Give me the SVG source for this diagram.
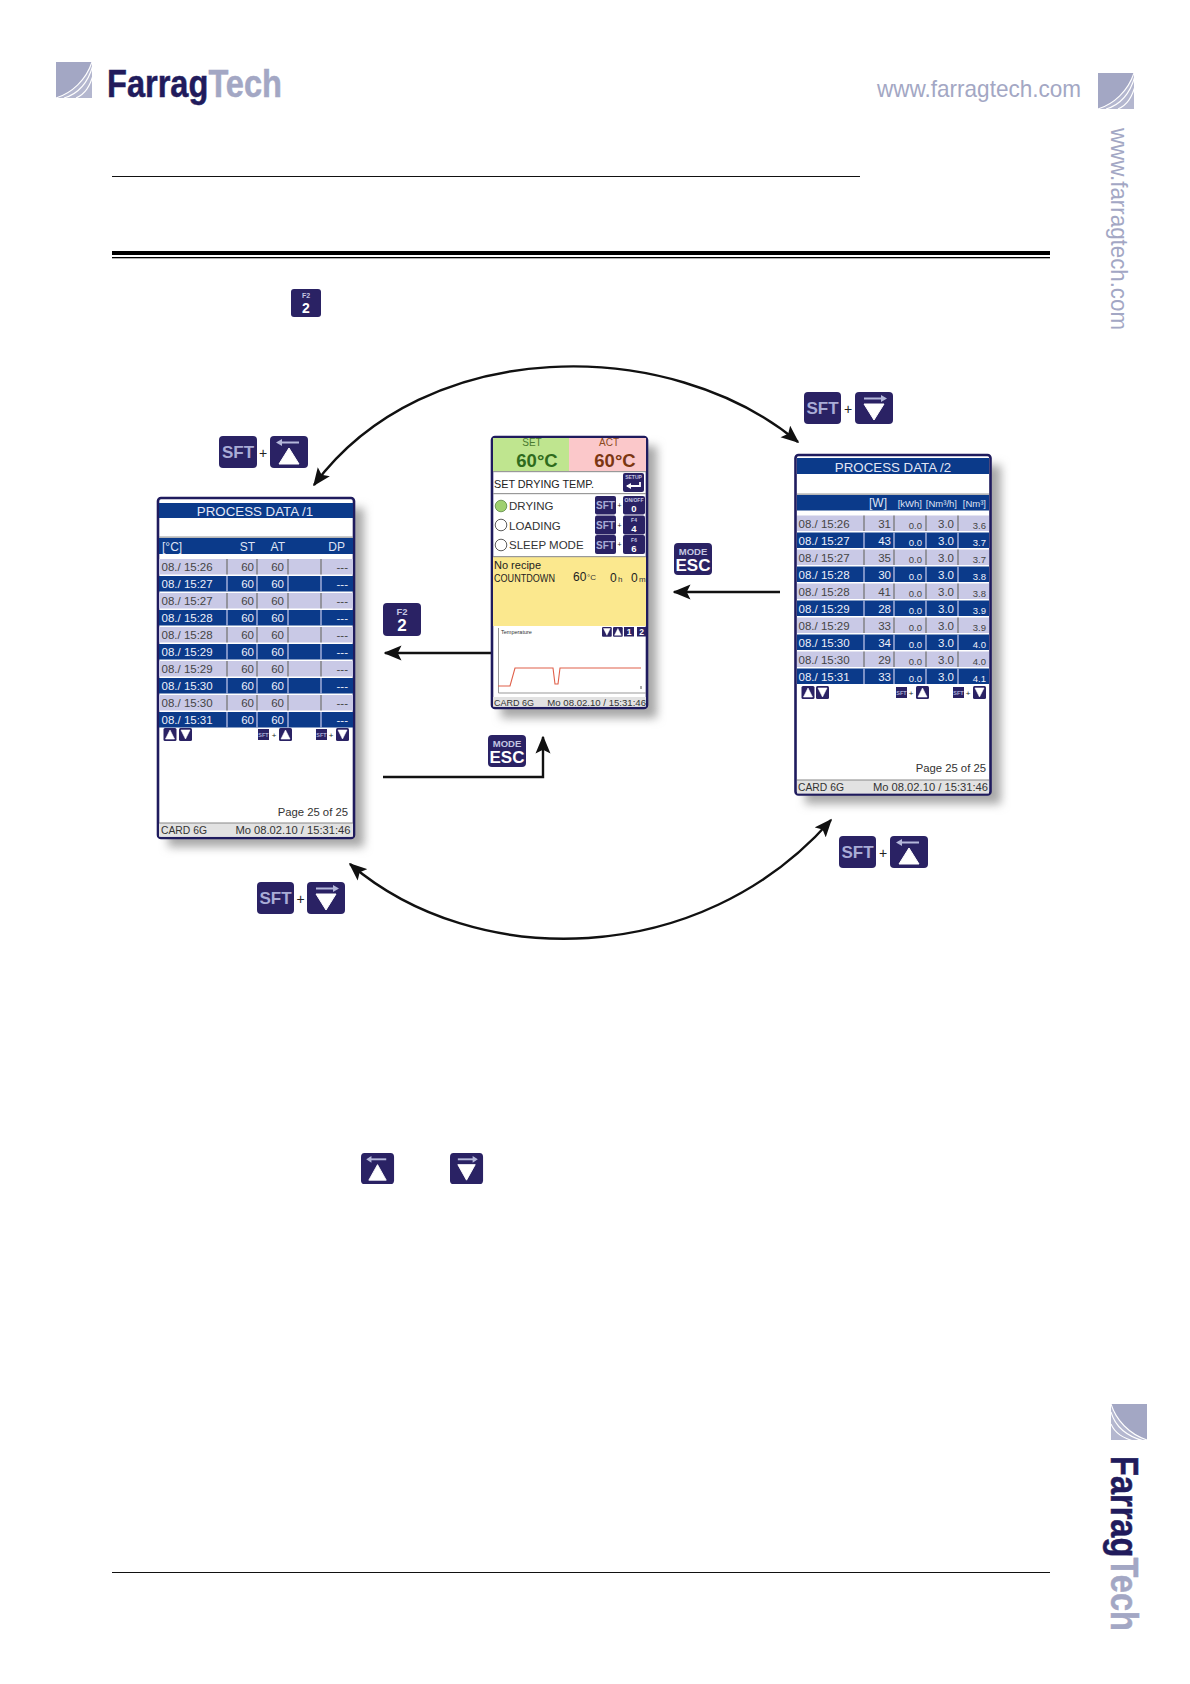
<svg xmlns="http://www.w3.org/2000/svg" width="1190" height="1684" viewBox="0 0 1190 1684">
<style>
text{font-family:"Liberation Sans",Arial,sans-serif}
.k{fill:#2a2264}
.sf{fill:#a9acd6;font-weight:bold;text-anchor:middle}
.kt{fill:#c4c6e2;font-weight:bold;text-anchor:middle}
.kw{fill:#fff;font-weight:bold;text-anchor:middle}
.plus{fill:#222;text-anchor:middle}
.frame{fill:#fff;stroke:#1f1b5e;stroke-width:2.6}
.bar{fill:#0b3a8a}
.tt{fill:#e4e8f6;text-anchor:middle;font-size:13.3px}
.hd{fill:#dfe3f4;font-size:12px}
.lt{fill:#c9c9e6}
.dk{fill:#0b3a8a}
.tl{fill:#444;font-size:11.5px}
.td{fill:#eef0fa;font-size:11.5px}
.sl{font-size:9.5px}
.r{text-anchor:end}
.dl{stroke:#777;stroke-width:1.3}
.dd{stroke:#b9bfe6;stroke-width:1.3}
.st{fill:#e2e2e2}
.stt{fill:#333;font-size:11.2px}
.stm{fill:#333;font-size:9.6px}
.pg{fill:#333;font-size:11.3px;text-anchor:end}
.con{fill:none;stroke:#111;stroke-width:2.4}
.logo{font-weight:bold;fill:#211b5c;stroke:#211b5c;stroke-width:.5}
.logo tspan{fill:#a3a7c4;stroke:#a3a7c4}
.web{fill:#a3a7c4}
.gl{fill:#a8a8a8}
</style>
<defs>
<marker id="ah" viewBox="0 0 12 10" refX="11" refY="5" markerWidth="7.5" markerHeight="6.5" markerUnits="strokeWidth" orient="auto-start-reverse"><path d="M0 0L12 5L0 10L2.500 5Z" fill="#111"/></marker>
<filter id="blur" x="-20%" y="-20%" width="140%" height="140%"><feGaussianBlur stdDeviation="5"/></filter>
<g id="keyUp"><rect width="38" height="32" rx="4" class="k"/><path d="M10 6.500H29" stroke="#b4b7da" stroke-width="2"/><path d="M6 6.500L12 3V10Z" fill="#b4b7da"/><path d="M19 12L29 28H9Z" fill="#fff" stroke="#fff" stroke-linejoin="round"/></g>
<g id="keyDown"><rect width="38" height="32" rx="4" class="k"/><path d="M9 6.500H28" stroke="#b4b7da" stroke-width="2"/><path d="M32 6.500L26 3V10Z" fill="#b4b7da"/><path d="M9 12H29L19 28Z" fill="#fff" stroke="#fff" stroke-linejoin="round"/></g>
<g id="icoUp"><rect width="13" height="13" rx="1.500" class="k"/><path d="M6.500 2L11 11H2Z" fill="#fff" stroke="#fff" stroke-width=".6" stroke-linejoin="round"/></g>
<g id="icoDown"><rect width="13" height="13" rx="1.500" class="k"/><path d="M2 2H11L6.500 11Z" fill="#fff" stroke="#fff" stroke-width=".6" stroke-linejoin="round"/></g>
<g id="logoSq"><rect width="36" height="36" fill="#a3a7c4"/><path d="M0 36C16 31 30 18 36 0V36Z" fill="#b4b7cf"/><path d="M0 36C16 31 30 18 36 0M8 36C22 32 32 21 37 3M20 36C29 32 34 25 38 10" fill="none" stroke="#fff" stroke-width="1.100"/></g>
</defs>
<rect width="1190" height="1684" fill="#fff"/>

<g id="header">
<use href="#logoSq" x="56" y="62"/>
<text class="logo" x="107" y="97" font-size="38" textLength="175" lengthAdjust="spacingAndGlyphs">Farrag<tspan>Tech</tspan></text>
<text class="web" x="877" y="97" font-size="24" textLength="204" lengthAdjust="spacingAndGlyphs">www.farragtech.com</text>
<use href="#logoSq" x="1098" y="73"/>
<text class="web" transform="translate(1111 128) rotate(90)" font-size="24" textLength="202" lengthAdjust="spacingAndGlyphs">www.farragtech.com</text>
<rect x="112" y="176" width="748" height="1" fill="#111"/>
<rect x="112" y="251" width="938" height="4" fill="#000"/>
<rect x="112" y="257" width="938" height="1.300" fill="#000"/>
<rect x="112" y="1572" width="938" height="1" fill="#111"/>
<g transform="translate(1111 1404) rotate(90) translate(0 -36)"><use href="#logoSq"/></g>
<text class="logo" transform="translate(1111 1456) rotate(90)" font-size="38" textLength="175" lengthAdjust="spacingAndGlyphs">Farrag<tspan>Tech</tspan></text>
</g>

<g id="key-inline-f2"><rect x="291" y="289" width="30" height="28" rx="3" class="k"/><text class="kt" x="306" y="298" font-size="7">F2</text><text class="kw" x="306" y="313" font-size="14">2</text></g>

<g id="connectors">
<path class="con" d="M314 485C425 335 670 335 798 442" marker-start="url(#ah)" marker-end="url(#ah)"/>
<path class="con" d="M350 864C475 971 700 969 831 820" marker-start="url(#ah)" marker-end="url(#ah)"/>
<path class="con" d="M641 640V653H385" marker-end="url(#ah)"/>
<path class="con" d="M780 592H674" marker-end="url(#ah)"/>
<path class="con" d="M383 777H543V737" marker-end="url(#ah)"/>
</g>

<g id="screen-main">
<rect x="501" y="446" width="156" height="272" class="gl" filter="url(#blur)"/>
<rect x="492" y="437" width="155" height="271" rx="3" class="frame"/>
<rect x="493" y="438" width="76" height="33" fill="#bfe58f"/>
<rect x="569" y="438" width="77" height="33" fill="#fbc8ca"/>
<text x="532" y="446" font-size="10" text-anchor="middle" fill="#4a7a30">SET</text>
<text x="609" y="446" font-size="10" text-anchor="middle" fill="#8a4a20">ACT</text>
<text x="537" y="467" font-size="18.500" font-weight="bold" text-anchor="middle" fill="#2f6b1d">60°C</text>
<text x="615" y="467" font-size="18.500" font-weight="bold" text-anchor="middle" fill="#7b3612">60°C</text>
<rect x="493" y="471" width="153" height="1.200" fill="#999"/>
<text x="494" y="488" font-size="11.500" fill="#222" textLength="100" lengthAdjust="spacingAndGlyphs">SET DRYING TEMP.</text>
<rect x="623" y="473" width="21" height="19" rx="2" class="k"/>
<text class="kt" x="633.500" y="479" font-size="5">SETUP</text>
<path d="M627 486H640V482" fill="none" stroke="#fff" stroke-width="1.800"/>
<path d="M626 486L631 483V489Z" fill="#fff"/>
<rect x="493" y="493" width="153" height="1.200" fill="#999"/>
<circle cx="501" cy="506" r="5.800" fill="#9fd06f" stroke="#4a7a30" stroke-width=".7"/>
<circle cx="501" cy="525" r="5.800" fill="#fff" stroke="#333" stroke-width=".8"/>
<circle cx="501" cy="545" r="5.800" fill="#fff" stroke="#333" stroke-width=".8"/>
<text x="509" y="510" font-size="11.500" fill="#333">DRYING</text>
<text x="509" y="530" font-size="11.500" fill="#333">LOADING</text>
<text x="509" y="549" font-size="11.500" fill="#333">SLEEP MODE</text>
<rect x="595" y="496" width="21" height="18.500" rx="2" class="k"/><text class="sf" x="605.500" y="509" font-size="10">SFT</text>
<rect x="595" y="515.500" width="21" height="19" rx="2" class="k"/><text class="sf" x="605.500" y="529" font-size="10">SFT</text>
<rect x="595" y="535" width="21" height="19" rx="2" class="k"/><text class="sf" x="605.500" y="548.500" font-size="10">SFT</text>
<text class="plus" x="619.500" y="508" font-size="7">+</text><text class="plus" x="619.500" y="528" font-size="7">+</text><text class="plus" x="619.500" y="547" font-size="7">+</text>
<rect x="623" y="496" width="22" height="18.500" rx="2" class="k"/><text class="kt" x="634" y="502" font-size="5">ON/OFF</text><text class="kw" x="634" y="512" font-size="9.500">0</text>
<rect x="623" y="515.500" width="22" height="19" rx="2" class="k"/><text class="kt" x="634" y="522" font-size="5">F4</text><text class="kw" x="634" y="532" font-size="9.500">4</text>
<rect x="623" y="535" width="22" height="19" rx="2" class="k"/><text class="kt" x="634" y="541.500" font-size="5">F6</text><text class="kw" x="634" y="551.500" font-size="9.500">6</text>
<rect x="493" y="556" width="153" height="70" fill="#fbe88e"/>
<rect x="493" y="556" width="153" height="1.200" fill="#999"/>
<text x="494" y="569" font-size="11" fill="#222">No recipe</text>
<text x="494" y="582" font-size="10" fill="#222" textLength="61" lengthAdjust="spacingAndGlyphs">COUNTDOWN</text>
<text x="573" y="581" font-size="12" fill="#222">60</text><text x="587" y="580" font-size="8" fill="#333">°C</text>
<text x="610" y="582" font-size="12" fill="#222">0</text><text x="618" y="582" font-size="8" fill="#333">h</text>
<text x="631" y="582" font-size="12" fill="#222">0</text><text x="639" y="582" font-size="8" fill="#333">m</text>
<path d="M498.500 628V693H646" fill="none" stroke="#999" stroke-width="1"/>
<text x="501" y="634" font-size="5.500" fill="#333">Temperature</text>
<use href="#icoDown" transform="translate(602 627) scale(.75)"/>
<use href="#icoUp" transform="translate(613 627) scale(.75)"/>
<rect x="624" y="627" width="10" height="9.500" class="k"/><text class="kw" x="629" y="635" font-size="8.500">1</text>
<rect x="637" y="627" width="9" height="9.500" class="k"/><text class="kw" x="641.500" y="635" font-size="8.500">2</text>
<path d="M498 686H510L515 668H553L555 684H558L560 668H641" fill="none" stroke="#e0604a" stroke-width="1.100"/>
<path d="M641 686V689" stroke="#555"/>
<rect x="493" y="697" width="153" height="9.700" class="st"/>
<text class="stm" x="494" y="705.500" textLength="40" lengthAdjust="spacingAndGlyphs">CARD 6G</text>
<text class="stm r" x="646" y="705.500">Mo 08.02.10 / 15:31:46</text>
</g>

<g id="screen-data-1">
<rect x="168" y="508" width="196" height="339" class="gl" filter="url(#blur)"/>
<rect x="158" y="498" width="196" height="340" rx="3" class="frame"/>
<rect x="159" y="503" width="194" height="15" class="bar"/>
<text class="tt" x="255" y="516">PROCESS DATA /1</text>
<rect x="159" y="536.500" width="194" height="1.200" fill="#999"/>
<rect x="159" y="538" width="194" height="16" class="bar"/>
<text class="hd" x="162" y="551">[°C]</text><text class="hd r" x="255" y="551">ST</text><text class="hd r" x="285" y="551">AT</text><text class="hd r" x="345" y="551">DP</text>
<rect x="159" y="559" width="194" height="15.500" class="lt"/><rect x="159" y="576" width="194" height="15.500" class="dk"/><rect x="159" y="593" width="194" height="15.500" class="lt"/><rect x="159" y="610" width="194" height="15.500" class="dk"/><rect x="159" y="627" width="194" height="15.500" class="lt"/><rect x="159" y="644" width="194" height="15.500" class="dk"/><rect x="159" y="661" width="194" height="15.500" class="lt"/><rect x="159" y="678" width="194" height="15.500" class="dk"/><rect x="159" y="695" width="194" height="15.500" class="lt"/><rect x="159" y="712" width="194" height="15.500" class="dk"/>
<path class="dl" d="M227 559v15.500M257 559v15.500M288 559v15.500M321 559v15.500M227 593v15.500M257 593v15.500M288 593v15.500M321 593v15.500M227 627v15.500M257 627v15.500M288 627v15.500M321 627v15.500M227 661v15.500M257 661v15.500M288 661v15.500M321 661v15.500M227 695v15.500M257 695v15.500M288 695v15.500M321 695v15.500"/>
<path class="dd" d="M227 576v15.500M257 576v15.500M288 576v15.500M321 576v15.500M227 610v15.500M257 610v15.500M288 610v15.500M321 610v15.500M227 644v15.500M257 644v15.500M288 644v15.500M321 644v15.500M227 678v15.500M257 678v15.500M288 678v15.500M321 678v15.500M227 712v15.500M257 712v15.500M288 712v15.500M321 712v15.500"/>
<g class="tl">
<text x="161.500" y="571">08./ 15:26</text><text class="r" x="254" y="571">60</text><text class="r" x="284" y="571">60</text><text class="r" x="348" y="571">---</text>
<text x="161.500" y="605">08./ 15:27</text><text class="r" x="254" y="605">60</text><text class="r" x="284" y="605">60</text><text class="r" x="348" y="605">---</text>
<text x="161.500" y="639">08./ 15:28</text><text class="r" x="254" y="639">60</text><text class="r" x="284" y="639">60</text><text class="r" x="348" y="639">---</text>
<text x="161.500" y="673">08./ 15:29</text><text class="r" x="254" y="673">60</text><text class="r" x="284" y="673">60</text><text class="r" x="348" y="673">---</text>
<text x="161.500" y="707">08./ 15:30</text><text class="r" x="254" y="707">60</text><text class="r" x="284" y="707">60</text><text class="r" x="348" y="707">---</text>
</g>
<g class="td">
<text x="161.500" y="588">08./ 15:27</text><text class="r" x="254" y="588">60</text><text class="r" x="284" y="588">60</text><text class="r" x="348" y="588">---</text>
<text x="161.500" y="622">08./ 15:28</text><text class="r" x="254" y="622">60</text><text class="r" x="284" y="622">60</text><text class="r" x="348" y="622">---</text>
<text x="161.500" y="656">08./ 15:29</text><text class="r" x="254" y="656">60</text><text class="r" x="284" y="656">60</text><text class="r" x="348" y="656">---</text>
<text x="161.500" y="690">08./ 15:30</text><text class="r" x="254" y="690">60</text><text class="r" x="284" y="690">60</text><text class="r" x="348" y="690">---</text>
<text x="161.500" y="724">08./ 15:31</text><text class="r" x="254" y="724">60</text><text class="r" x="284" y="724">60</text><text class="r" x="348" y="724">---</text>
</g>
<use href="#icoUp" x="163.500" y="728"/><use href="#icoDown" x="179" y="728"/>
<rect x="258" y="729" width="11" height="11" class="k"/><text class="sf" x="263.500" y="737" font-size="5.500">SFT</text><text class="plus" x="274" y="738" font-size="8">+</text><use href="#icoUp" x="279" y="728"/>
<rect x="316" y="729" width="11" height="11" class="k"/><text class="sf" x="321.500" y="737" font-size="5.500">SFT</text><text class="plus" x="331" y="738" font-size="8">+</text><use href="#icoDown" x="336" y="728"/>
<text class="pg" x="348" y="816">Page 25 of 25</text>
<rect x="159" y="823" width="194" height="13.700" class="st"/><rect x="159" y="822.500" width="194" height="1" fill="#888"/>
<text class="stt" x="161" y="834" textLength="46" lengthAdjust="spacingAndGlyphs">CARD 6G</text><text class="stt r" x="350.500" y="834">Mo 08.02.10 / 15:31:46</text>
</g>

<g id="screen-data-2">
<rect x="805" y="465" width="196" height="339" class="gl" filter="url(#blur)"/>
<rect x="795.500" y="455" width="195" height="339.500" rx="3" class="frame"/>
<rect x="797" y="458" width="192" height="16" class="bar"/>
<text class="tt" x="893" y="472">PROCESS DATA /2</text>
<rect x="797" y="493.500" width="192" height="1.200" fill="#999"/>
<rect x="797" y="495" width="192" height="15.500" class="bar"/>
<text class="hd r" x="887" y="507">[W]</text>
<text class="hd r sl" x="922" y="507">[kWh]</text><text class="hd r sl" x="957" y="507">[Nm³/h]</text><text class="hd r sl" x="986" y="507">[Nm³]</text>
<rect x="797" y="515.500" width="192" height="15.500" class="lt"/><rect x="797" y="532.500" width="192" height="15.500" class="dk"/><rect x="797" y="549.500" width="192" height="15.500" class="lt"/><rect x="797" y="566.500" width="192" height="15.500" class="dk"/><rect x="797" y="583.500" width="192" height="15.500" class="lt"/><rect x="797" y="600.500" width="192" height="15.500" class="dk"/><rect x="797" y="617.500" width="192" height="15.500" class="lt"/><rect x="797" y="634.500" width="192" height="15.500" class="dk"/><rect x="797" y="651.500" width="192" height="15.500" class="lt"/><rect x="797" y="668.500" width="192" height="15.500" class="dk"/>
<path class="dl" d="M864 515.500v15.500M894 515.500v15.500M926 515.500v15.500M958 515.500v15.500M864 549.500v15.500M894 549.500v15.500M926 549.500v15.500M958 549.500v15.500M864 583.500v15.500M894 583.500v15.500M926 583.500v15.500M958 583.500v15.500M864 617.500v15.500M894 617.500v15.500M926 617.500v15.500M958 617.500v15.500M864 651.500v15.500M894 651.500v15.500M926 651.500v15.500M958 651.500v15.500"/>
<path class="dd" d="M864 532.500v15.500M894 532.500v15.500M926 532.500v15.500M958 532.500v15.500M864 566.500v15.500M894 566.500v15.500M926 566.500v15.500M958 566.500v15.500M864 600.500v15.500M894 600.500v15.500M926 600.500v15.500M958 600.500v15.500M864 634.500v15.500M894 634.500v15.500M926 634.500v15.500M958 634.500v15.500M864 668.500v15.500M894 668.500v15.500M926 668.500v15.500M958 668.500v15.500"/>
<g class="tl">
<text x="798.500" y="528">08./ 15:26</text><text class="r" x="891" y="528">31</text><text class="r sl" x="922" y="529">0.0</text><text class="r" x="954" y="528">3.0</text><text class="r sl" x="986" y="529">3.6</text>
<text x="798.500" y="562">08./ 15:27</text><text class="r" x="891" y="562">35</text><text class="r sl" x="922" y="563">0.0</text><text class="r" x="954" y="562">3.0</text><text class="r sl" x="986" y="563">3.7</text>
<text x="798.500" y="596">08./ 15:28</text><text class="r" x="891" y="596">41</text><text class="r sl" x="922" y="597">0.0</text><text class="r" x="954" y="596">3.0</text><text class="r sl" x="986" y="597">3.8</text>
<text x="798.500" y="630">08./ 15:29</text><text class="r" x="891" y="630">33</text><text class="r sl" x="922" y="631">0.0</text><text class="r" x="954" y="630">3.0</text><text class="r sl" x="986" y="631">3.9</text>
<text x="798.500" y="664">08./ 15:30</text><text class="r" x="891" y="664">29</text><text class="r sl" x="922" y="665">0.0</text><text class="r" x="954" y="664">3.0</text><text class="r sl" x="986" y="665">4.0</text>
</g>
<g class="td">
<text x="798.500" y="545">08./ 15:27</text><text class="r" x="891" y="545">43</text><text class="r sl" x="922" y="546">0.0</text><text class="r" x="954" y="545">3.0</text><text class="r sl" x="986" y="546">3.7</text>
<text x="798.500" y="579">08./ 15:28</text><text class="r" x="891" y="579">30</text><text class="r sl" x="922" y="580">0.0</text><text class="r" x="954" y="579">3.0</text><text class="r sl" x="986" y="580">3.8</text>
<text x="798.500" y="613">08./ 15:29</text><text class="r" x="891" y="613">28</text><text class="r sl" x="922" y="614">0.0</text><text class="r" x="954" y="613">3.0</text><text class="r sl" x="986" y="614">3.9</text>
<text x="798.500" y="647">08./ 15:30</text><text class="r" x="891" y="647">34</text><text class="r sl" x="922" y="648">0.0</text><text class="r" x="954" y="647">3.0</text><text class="r sl" x="986" y="648">4.0</text>
<text x="798.500" y="681">08./ 15:31</text><text class="r" x="891" y="681">33</text><text class="r sl" x="922" y="682">0.0</text><text class="r" x="954" y="681">3.0</text><text class="r sl" x="986" y="682">4.1</text>
</g>
<use href="#icoUp" x="801.500" y="686"/><use href="#icoDown" x="816" y="686"/>
<rect x="896" y="687" width="11" height="11" class="k"/><text class="sf" x="901.500" y="695" font-size="5.500">SFT</text><text class="plus" x="911" y="696" font-size="8">+</text><use href="#icoUp" x="916" y="686"/>
<rect x="953" y="687" width="11" height="11" class="k"/><text class="sf" x="958.500" y="695" font-size="5.500">SFT</text><text class="plus" x="968" y="696" font-size="8">+</text><use href="#icoDown" x="973" y="686"/>
<text class="pg" x="986" y="772">Page 25 of 25</text>
<rect x="797" y="780" width="192" height="13.500" class="st"/><rect x="797" y="779.500" width="192" height="1" fill="#888"/>
<text class="stt" x="798" y="791" textLength="46" lengthAdjust="spacingAndGlyphs">CARD 6G</text><text class="stt r" x="988" y="791">Mo 08.02.10 / 15:31:46</text>
</g>

<g id="key-sft-up-top"><rect x="219" y="436" width="38" height="32" rx="4" class="k"/><text class="sf" x="238" y="458" font-size="17">SFT</text><text class="plus" x="263" y="458" font-size="14">+</text><use href="#keyUp" x="270" y="436"/></g>
<g id="key-sft-down-top"><rect x="804" y="392" width="37" height="32" rx="4" class="k"/><text class="sf" x="822.500" y="414" font-size="17">SFT</text><text class="plus" x="848" y="414" font-size="14">+</text><use href="#keyDown" x="855" y="392"/></g>
<g id="key-sft-down-bottom"><rect x="257" y="882" width="37" height="32" rx="4" class="k"/><text class="sf" x="275.500" y="904" font-size="17">SFT</text><text class="plus" x="300.500" y="904" font-size="14">+</text><use href="#keyDown" x="307" y="882"/></g>
<g id="key-sft-up-bottom"><rect x="839" y="836" width="37" height="32" rx="4" class="k"/><text class="sf" x="857.500" y="858" font-size="17">SFT</text><text class="plus" x="883" y="858" font-size="14">+</text><use href="#keyUp" x="890" y="836"/></g>
<g id="key-esc-right"><rect x="674" y="543" width="38" height="32" rx="4" class="k"/><text class="kt" x="693" y="555" font-size="9.500">MODE</text><text class="kw" x="693" y="571" font-size="17">ESC</text></g>
<g id="key-esc-left"><rect x="488" y="735" width="38" height="32" rx="4" class="k"/><text class="kt" x="507" y="747" font-size="9.500">MODE</text><text class="kw" x="507" y="763" font-size="17">ESC</text></g>
<g id="key-f2"><rect x="383" y="603" width="38" height="33" rx="4" class="k"/><text class="kt" x="402" y="615" font-size="9.500">F2</text><text class="kw" x="402" y="631" font-size="17">2</text></g>
<use id="key-inline-up" href="#keyUp" transform="translate(361 1153) scale(.87 .97)"/>
<use id="key-inline-down" href="#keyDown" transform="translate(450 1153) scale(.87 .97)"/>
</svg>
